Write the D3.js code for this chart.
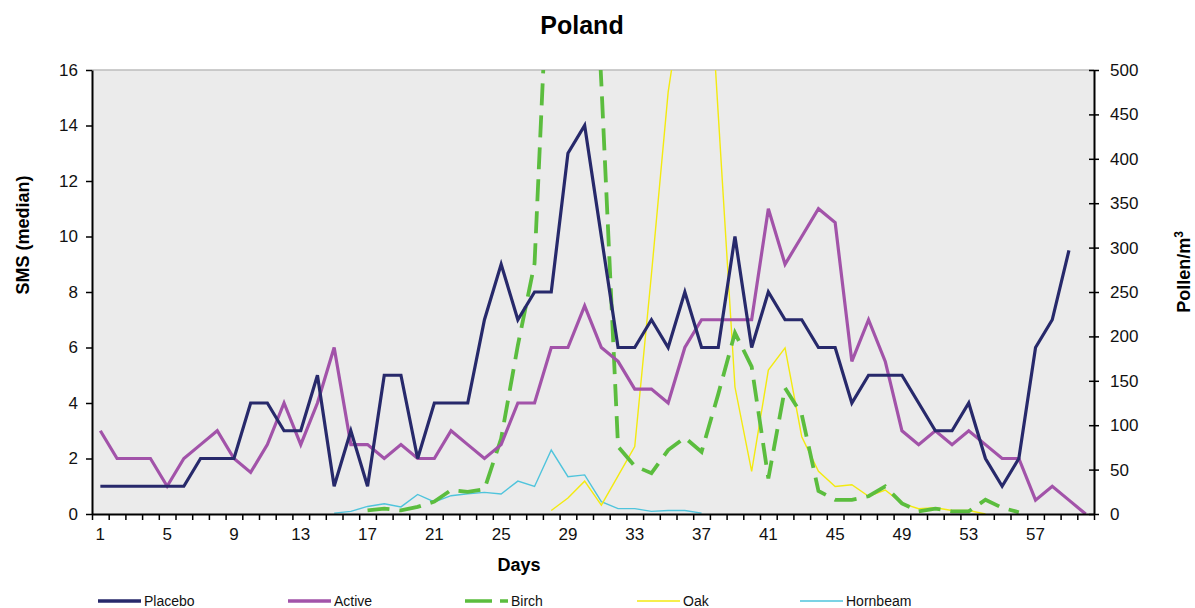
<!DOCTYPE html>
<html>
<head>
<meta charset="utf-8">
<script src="https://cdn.jsdelivr.net/npm/d3@7"></script>
<style>
  body { margin: 0; background: #fff; }
  svg { display: block; font-family: "Liberation Sans", Arial, sans-serif; }
</style>
</head>
<body>
<div class="container"></div>
<script>
// days on the x axis (categories)
let days = d3.range(1, 61);
let dayLabels = [1, 5, 9, 13, 17, 21, 25, 29, 33, 37, 41, 45, 49, 53, 57];
let smsTicks = [0, 2, 4, 6, 8, 10, 12, 14, 16];
let pollenTicks = [0, 50, 100, 150, 200, 250, 300, 350, 400, 450, 500];

// SMS (median), left axis
let placeboStart = 1;
let placebo = [1, 1, 1, 1, 1, 1, 2, 2, 2, 4,
  4, 3, 3, 5, 1, 3, 1, 5, 5, 2,
  4, 4, 4, 7, 9, 7, 8, 8, 13, 14,
  10, 6, 6, 7, 6, 8, 6, 6, 10, 6,
  8, 7, 7, 6, 6, 4, 5, 5, 5, 4,
  3, 3, 4, 2, 1, 2, 6, 7, 9.5];
let activeStart = 1;
let active = [3, 2, 2, 2, 1, 2, 2.5, 3, 2, 1.5,
  2.5, 4, 2.5, 4, 6, 2.5, 2.5, 2, 2.5, 2,
  2, 3, 2.5, 2, 2.5, 4, 4, 6, 6, 7.5,
  6, 5.5, 4.5, 4.5, 4, 6, 7, 7, 7, 7,
  11, 9, 10, 11, 10.5, 5.5, 7, 5.5, 3, 2.5,
  3, 2.5, 3, 2.5, 2, 2, 0.5, 1, 0.5, 0];

// pollen counts, right axis
let birchStart = 17;
let birch = [4, 6, 4, 8, 14, 27, 25, 28, 85, 190,
  282, 700, 950, 860, 485, 76, 54, 46, 72, 86,
  70, 135, 204, 166, 40, 142, 112, 26, 16, 16,
  20, 31, 12, 3, 6, 3, 3, 16, 7, 2];
let oakStart = 28;
let oak = [4, 18, 37, 10, 43, 76, 270, 475, 600, 760,
  450, 143, 48, 162, 187, 87, 48, 31, 33, 20,
  27, 12, 6, 7, 4, 4, 0];
let hornbeamStart = 15;
let hornbeam = [1, 3, 8.5, 11.6, 8, 22, 13.5, 20.6, 22.8, 24.3,
  22.5, 37, 31, 72, 42, 44, 14, 6, 6, 3,
  4, 4, 1];

let W = 1195, H = 608;
let pLeft = 92, pRight = 1094, pTop = 70, pBottom = 514;

var svg = d3.select(".container")
  .append("svg")
  .attr("width", W)
  .attr("height", H);

let x = d3.scaleBand().domain(days).range([pLeft, pRight]);
let xEdge = d3.scaleLinear().domain([0.5, 60.5]).range([pLeft, pRight]);
let y = d3.scaleLinear().domain([0, 16]).range([pBottom, pTop]);
let y2 = d3.scaleLinear().domain([0, 500]).range([pBottom, pTop]);

// plot background
svg.append("rect")
  .attr("x", pLeft).attr("y", pTop)
  .attr("width", pRight - pLeft).attr("height", pBottom - pTop)
  .attr("fill", "#ebebeb");
svg.append("line")
  .attr("x1", pLeft).attr("x2", pRight)
  .attr("y1", pTop).attr("y2", pTop)
  .attr("stroke", "#bdbdbd").attr("stroke-width", 1.5);

svg.append("clipPath").attr("id", "plot")
  .append("rect")
  .attr("x", pLeft).attr("y", pTop)
  .attr("width", pRight - pLeft).attr("height", pBottom - pTop);

let toPoints = (vals, start) => vals.map((v, i) => ({ day: start + i, v: v }));
let cx = (d) => x(d.day) + x.bandwidth() / 2;

let series = [
  { name: "Hornbeam", vals: hornbeam, start: hornbeamStart, scale: y2, color: "#4fc4dc", width: 1.4, dash: null },
  { name: "Oak", vals: oak, start: oakStart, scale: y2, color: "#f3ea0f", width: 1.4, dash: null },
  { name: "Birch", vals: birch, start: birchStart, scale: y2, color: "#5bbd3e", width: 3.8, dash: "22,10" },
  { name: "Active", vals: active, start: activeStart, scale: y, color: "#a253a9", width: 3.2, dash: null },
  { name: "Placebo", vals: placebo, start: placeboStart, scale: y, color: "#27296b", width: 3.2, dash: null },
];

let g = svg.append("g").attr("clip-path", "url(#plot)");
series.forEach((s) => {
  let line = d3.line().x(cx).y((d) => s.scale(d.v));
  g.append("path")
    .datum(toPoints(s.vals, s.start))
    .attr("d", line)
    .attr("fill", "none")
    .attr("stroke", s.color)
    .attr("stroke-width", s.width)
    .attr("stroke-dasharray", s.dash)
    .attr("stroke-linejoin", "miter");
});

// axes
let styleAxis = (sel) => {
  sel.selectAll("path").attr("stroke", "#000").attr("stroke-width", 2);
  sel.selectAll("line").attr("stroke", "#000").attr("stroke-width", 1.5);
  sel.selectAll("text").attr("font-size", 17).attr("fill", "#111")
    .attr("font-family", "Liberation Sans, Arial, sans-serif");
};

svg.append("g")
  .attr("transform", `translate(${pLeft},0)`)
  .call(d3.axisLeft(y).tickValues(smsTicks).tickSize(6).tickPadding(8).tickSizeOuter(0))
  .call(styleAxis);

let rightAxis = svg.append("g")
  .attr("transform", `translate(${pRight},0)`)
  .call(d3.axisRight(y2).tickValues(pollenTicks).tickSize(5).tickPadding(11).tickSizeOuter(0))
  .call(styleAxis);
rightAxis.selectAll(".tick line").attr("x1", -5);

svg.append("g")
  .attr("transform", `translate(0,${pBottom})`)
  .call(d3.axisBottom(xEdge).tickValues(d3.range(0.5, 61, 1)).tickSize(6).tickFormat("").tickSizeOuter(0))
  .call(styleAxis);
svg.append("g")
  .attr("transform", `translate(0,${pBottom})`)
  .call(d3.axisBottom(x).tickValues(dayLabels).tickSize(0).tickPadding(14))
  .call(styleAxis)
  .call((a) => a.select(".domain").remove());

// titles
svg.append("text")
  .attr("x", 582).attr("y", 34)
  .attr("text-anchor", "middle")
  .attr("font-size", 25).attr("font-weight", "bold")
  .text("Poland");
svg.append("text")
  .attr("transform", "translate(29,235) rotate(-90)")
  .attr("text-anchor", "middle")
  .attr("font-size", 18).attr("font-weight", "bold")
  .text("SMS (median)");
let pl = svg.append("text")
  .attr("transform", "translate(1190,272) rotate(-90)")
  .attr("text-anchor", "middle")
  .attr("font-size", 18).attr("font-weight", "bold")
  .text("Pollen/m");
pl.append("tspan").attr("font-size", 12).attr("dy", -7).text("3");
svg.append("text")
  .attr("x", 519).attr("y", 571)
  .attr("text-anchor", "middle")
  .attr("font-size", 18).attr("font-weight", "bold")
  .text("Days");

// legend
let legendItems = [
  { s: series[4], x: 98 },
  { s: series[3], x: 288 },
  { s: series[2], x: 465 },
  { s: series[1], x: 637 },
  { s: series[0], x: 800 },
];
let lg = svg.append("g").selectAll("g")
  .data(legendItems)
  .enter()
  .append("g")
  .attr("transform", (d) => `translate(${d.x},601)`);
lg.append("line")
  .attr("x1", 0).attr("x2", 43)
  .attr("stroke", (d) => d.s.color)
  .attr("stroke-width", (d) => (d.s.width > 2 ? 3.5 : 1.6))
  .attr("stroke-dasharray", (d) => (d.s.dash ? "27,8" : null));
lg.append("text")
  .attr("x", 46).attr("y", 5)
  .attr("font-size", 14)
  .attr("fill", "#111")
  .text((d) => d.s.name);
</script>
</body>
</html>
